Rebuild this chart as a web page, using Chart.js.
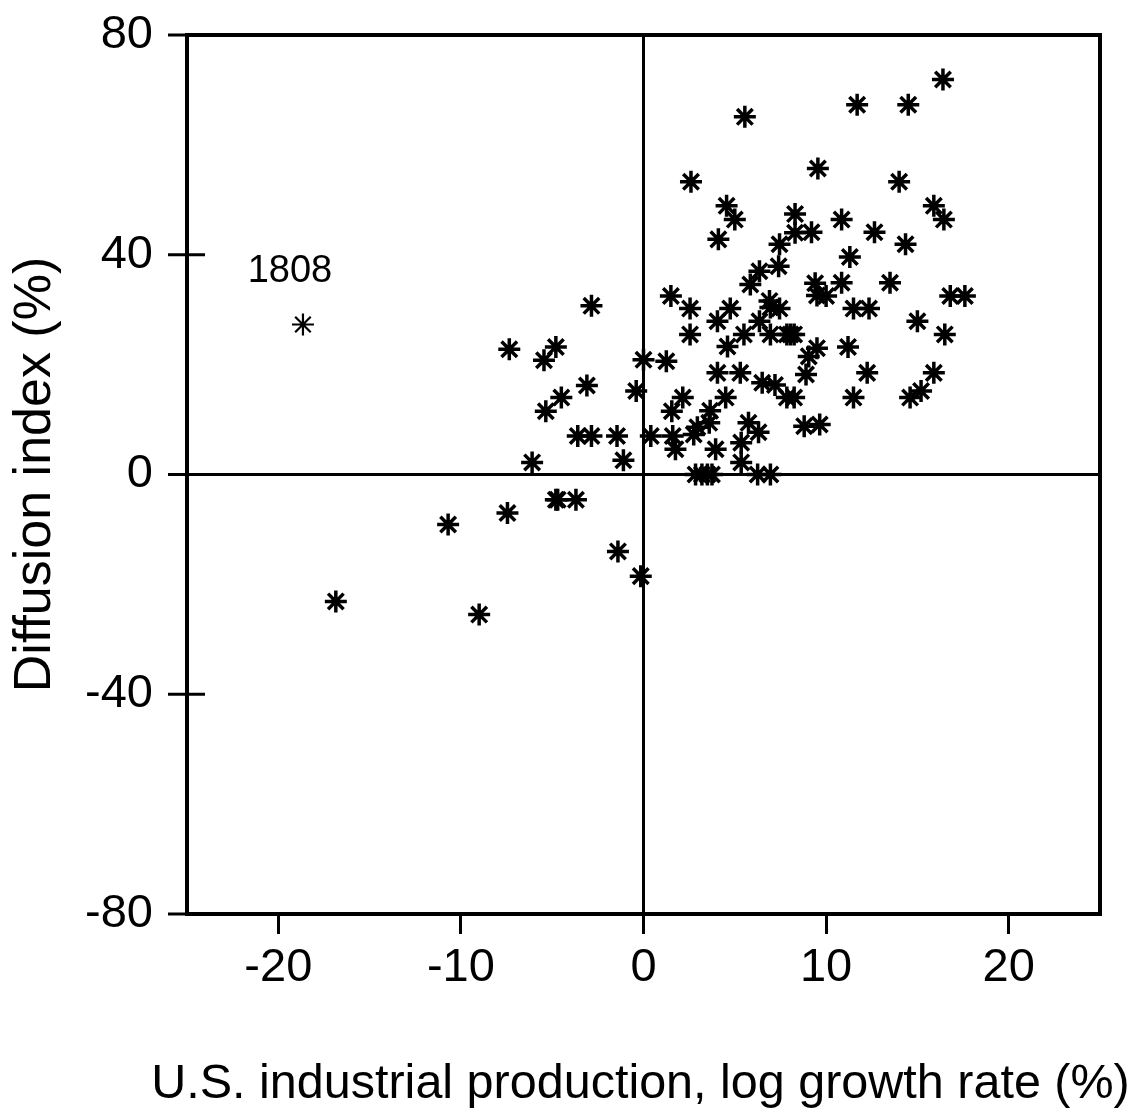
<!DOCTYPE html>
<html>
<head>
<meta charset="utf-8">
<script src="https://cdn.jsdelivr.net/npm/chart.js@4.4.1/dist/chart.umd.min.js"></script>
<style>
html, body { margin: 0; padding: 0; background: #fff; }
canvas { display: block; }
</style>
</head>
<body>
<canvas id="chart" width="1139" height="1120"></canvas>
<script>
// tick values on both axes
const xTicks = [-20, -10, 0, 10, 20];
const yTicks = [-80, -40, 0, 40, 80];

// growth rate (x) and diffusion index (y)
const growth = [
  16.4, 11.7, 14.5, 5.55, 9.55, 2.6, 14.0, 4.55, 5.0, 8.3,
  10.85, 15.9, 16.45, 4.1, 8.3, 9.2, 12.65, 7.45, 14.35, 11.3,
  6.35, 7.4, 5.85, 9.4, 10.85, 13.5, 9.5, 10.0, 16.8, 17.6,
  1.5, 2.55, 4.75, 6.9, 6.95, 7.45, 11.5, 12.35, 15.0, 16.5,
  4.05, 6.35, 2.55, 5.5, 6.95, 7.85, 8.05, 8.25, 4.6, 9.5,
  9.05, 11.2, 0.0, 1.25, 4.05, 5.3, 8.9, 12.25, 15.9, 6.5,
  7.2, -0.4, 2.15, 4.5, 7.85, 8.25, 11.5, 14.6, 15.2, 1.55,
  3.65, 3.6, 5.75, 6.3, 8.8, 9.65, 2.95, 2.75, 0.4, 1.6,
  1.75, 3.95, 5.35, 5.35, -1.1, 2.85, 3.2, 3.5, 3.75, 6.25,
  6.95, -2.85, -7.35, -4.8, -5.45, -3.1, -4.5, -5.35, -3.6, -2.85,
  -1.45, -6.1, -4.8, -4.7, -3.7, -7.45, -1.4, -0.15, -10.7, -16.85,
  -9.0
];
const diffusion = [
  71.9, 67.3, 67.3, 65.1, 55.7, 53.3, 53.3, 48.9, 46.4, 47.4,
  46.4, 48.9, 46.4, 42.8, 44.0, 44.1, 44.1, 41.9, 41.9, 39.6,
  37.0, 37.9, 34.6, 34.8, 34.9, 34.9, 32.6, 32.5, 32.5, 32.5,
  32.5, 30.2, 30.2, 31.6, 30.4, 30.2, 30.2, 30.2, 27.9, 25.5,
  27.9, 27.9, 25.5, 25.5, 25.5, 25.5, 25.5, 25.5, 23.3, 23.0,
  21.5, 23.2, 20.9, 20.6, 18.5, 18.5, 18.2, 18.5, 18.5, 16.7,
  16.3, 15.2, 14.0, 14.0, 14.0, 14.0, 14.0, 14.0, 15.2, 11.5,
  11.6, 9.4, 9.4, 7.7, 8.8, 9.1, 8.6, 7.3, 7.0, 7.0,
  4.6, 4.6, 5.8, 2.2, 2.6, 0, 0, 0, 0, 0,
  0, 30.7, 22.8, 23.2, 20.8, 16.2, 14.0, 11.5, 7.0, 7.0,
  7.0, 2.2, -4.6, -4.6, -4.6, -7.0, -14.0, -18.5, -9.1, -23.1,
  -25.5
];

// the labelled year
const outlierYear = '1808';
const outlierGrowth = [-18.65];
const outlierDiffusion = [27.3];

const xTitle = 'U.S. industrial production, log growth rate (%)';
const yTitle = 'Diffusion index (%)';

const FONT = '"Liberation Sans", Arial, Helvetica, sans-serif';

function zeroLine(ctx) {
  return ctx.tick && ctx.tick.value === 0 ? '#000' : 'rgba(0,0,0,0)';
}

// frame, y ticks crossing the left edge, year label, x title (wider than the plot)
const framePlugin = {
  id: 'frame',
  afterDraw(chart) {
    const ctx = chart.ctx;
    const a = chart.chartArea;
    const ys = chart.scales.y;
    ctx.save();
    ctx.strokeStyle = '#000';
    ctx.lineWidth = 4;
    ctx.strokeRect(a.left, a.top, a.right - a.left, a.bottom - a.top);
    ctx.lineWidth = 3;
    yTicks.forEach(v => {
      const y = ys.getPixelForValue(v);
      ctx.beginPath();
      ctx.moveTo(a.left - 19, y);
      ctx.lineTo(a.left + 18, y);
      ctx.stroke();
    });
    const p = chart.getDatasetMeta(1).data[0];
    ctx.fillStyle = '#000';
    ctx.font = '38px ' + FONT;
    ctx.textAlign = 'center';
    ctx.textBaseline = 'middle';
    ctx.fillText(outlierYear, p.x - 13, p.y - 53);

    ctx.font = '48.5px ' + FONT;
    ctx.fillText(xTitle, (a.left + a.right) / 2 - 3, chart.height - 35);
    ctx.restore();
  }
};

new Chart(document.getElementById('chart'), {
  type: 'scatter',
  data: {
    datasets: [{
      data: growth.map((x, i) => ({ x: x, y: diffusion[i] })),
      pointStyle: 'star',
      pointRadius: 11,
      borderColor: '#000',
      borderWidth: 3.5
    }, {
      data: outlierGrowth.map((x, i) => ({ x: x, y: outlierDiffusion[i] })),
      pointStyle: 'star',
      pointRadius: 11,
      borderColor: '#000',
      borderWidth: 2.2
    }]
  },
  options: {
    responsive: false,
    animation: false,
    layout: { padding: { top: 35, right: 39, left: 0, bottom: 0 } },
    plugins: { legend: { display: false }, tooltip: { enabled: false } },
    scales: {
      x: {
        type: 'linear',
        min: -25,
        max: 25,
        afterBuildTicks: s => { s.ticks = xTicks.map(v => ({ value: v })); },
        afterFit: s => { s.height = 206; s.paddingLeft = 0; s.paddingRight = 0; },
        border: { display: false },
        grid: {
          color: zeroLine,
          lineWidth: 3,
          tickColor: '#000',
          tickWidth: 3,
          tickLength: 20
        },
        ticks: {
          color: '#000',
          font: { family: FONT, size: 47 },
          padding: 6,
          maxRotation: 0,
          autoSkip: false
        },
        title: { display: false }
      },
      y: {
        type: 'linear',
        min: -80,
        max: 80,
        afterBuildTicks: s => { s.ticks = yTicks.map(v => ({ value: v })); },
        afterFit: s => { s.width = 187; s.paddingTop = 0; s.paddingBottom = 0; },
        border: { display: false },
        grid: {
          color: zeroLine,
          lineWidth: 3,
          drawTicks: false
        },
        ticks: {
          color: '#000',
          font: { family: FONT, size: 47 },
          padding: 34
        },
        title: {
          display: true,
          text: yTitle,
          color: '#000',
          font: { family: FONT, size: 52 },
          padding: { top: 4, bottom: 0 }
        }
      }
    }
  },
  plugins: [framePlugin]
});
</script>
</body>
</html>
